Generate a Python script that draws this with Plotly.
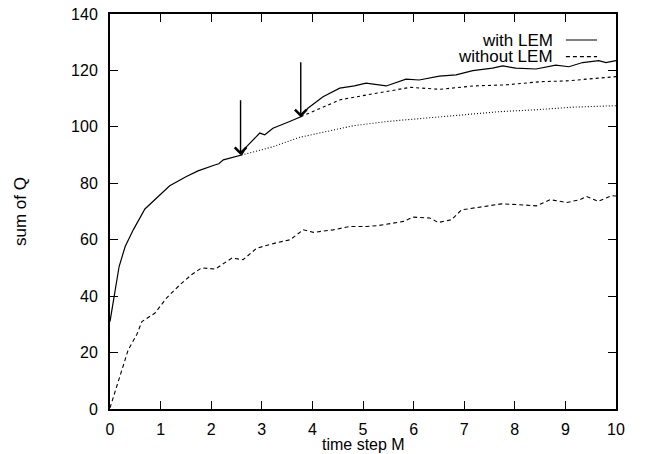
import plotly.graph_objects as go

# ---- data ----
with_lem_x = [0, 0.07, 0.18, 0.3, 0.46, 0.69, 0.95, 1.18, 1.51, 1.74, 2.07, 2.15, 2.24, 2.6,
              2.7, 2.96, 3.06, 3.22, 3.55, 3.77, 3.91, 4.21, 4.54, 4.83, 5.06, 5.46, 5.85,
              6.11, 6.51, 6.84, 7.17, 7.56, 7.76, 8.02, 8.42, 8.81, 9.07, 9.34, 9.66, 9.8, 10]
with_lem_y = [31, 39, 50.5, 57.6, 63.5, 70.9, 75.3, 79.1, 82.4, 84.4, 86.5, 86.9, 88.3, 90,
              93, 97.8, 97.2, 99.5, 101.9, 103.6, 106.6, 110.7, 113.7, 114.5, 115.5, 114.5, 116.9,
              116.6, 118, 118.4, 119.9, 120.8, 121.6, 120.8, 120.5, 121.9, 121.3, 122.8, 123.5, 122.8, 123.5]

branch1_x = [2.6, 3.23, 3.75, 4.41, 4.81, 5.47, 6.13, 6.92, 7.71, 8.37, 9.16, 10]
branch1_y = [90, 93, 96.3, 98.7, 100.4, 101.9, 103, 104.2, 105.4, 106, 107, 107.5]

branch2_x = [3.77, 4.15, 4.55, 5.07, 5.6, 5.93, 6.52, 7.18, 7.84, 8.5, 9.03, 9.49, 10]
branch2_y = [103.6, 106.6, 109.6, 111.3, 113.1, 114, 113.3, 114.5, 114.9, 116, 116.3, 116.9, 117.8]

without_lem_x = [0, 0.2, 0.36, 0.53, 0.63, 0.89, 1.12, 1.38, 1.61, 1.81, 2.08, 2.41, 2.63, 2.9,
                 3.26, 3.56, 3.82, 4.02, 4.41, 4.74, 5.07, 5.3, 5.53, 5.8, 5.99, 6.32, 6.49, 6.75,
                 6.95, 7.31, 7.74, 8.1, 8.43, 8.7, 9.03, 9.29, 9.42, 9.65, 9.91, 10]
without_lem_y = [0.4, 11.6, 21, 26.4, 31, 34, 39.4, 44, 47.6, 50, 49.6, 53.5, 52.9, 57,
                 58.8, 60, 63.5, 62.6, 63.5, 64.7, 64.7, 65, 65.7, 66.5, 68, 67.7, 66.1, 67.1,
                 70.6, 71.6, 72.7, 72.4, 72, 74.2, 73.2, 74.2, 75.3, 73.6, 75.6, 75.5]

# arrows: (x, tail y, head y)
arrow_x = [2.58, 3.77]
arrow_tail_y = [110, 123.4]
arrow_head_y = [90, 103.4]

legend_labels = ["with LEM", "without LEM"]
x_title = "time step M"
y_title = "sum of Q"

FONT = "Liberation Sans, Arial, Helvetica, sans-serif"
FS = 17
TFS = 16

fig = go.Figure()
fig.add_trace(go.Scatter(x=without_lem_x, y=without_lem_y, mode="lines",
                         line=dict(color="black", width=1.1, dash="4px,3px"), showlegend=False))
fig.add_trace(go.Scatter(x=branch1_x, y=branch1_y, mode="lines",
                         line=dict(color="black", width=1.1, dash="1px,2px"), showlegend=False))
fig.add_trace(go.Scatter(x=branch2_x, y=branch2_y, mode="lines",
                         line=dict(color="black", width=1.1, dash="3px,3px"), showlegend=False))
fig.add_trace(go.Scatter(x=with_lem_x, y=with_lem_y, mode="lines",
                         line=dict(color="black", width=1.2), showlegend=False))

for ax_, ty, hy in zip(arrow_x, arrow_tail_y, arrow_head_y):
    fig.add_annotation(x=ax_, y=hy, ax=ax_, ay=ty, xref="x", yref="y", axref="x", ayref="y",
                       showarrow=True, arrowhead=4, arrowsize=1.6, arrowwidth=1.4,
                       arrowcolor="black", text="")

# manual gnuplot-style legend (text left, sample right)
leg_y = [0.934, 0.892]
leg_dash = ["solid", "4px,3px"]
for lab, yy, dd in zip(legend_labels, leg_y, leg_dash):
    fig.add_annotation(x=0.877, y=yy, xref="paper", yref="paper", text=lab, showarrow=False,
                       xanchor="right", yanchor="middle", borderpad=0,
                       font=dict(family=FONT, size=FS, color="black"))
    fig.add_shape(type="line", xref="paper", yref="paper", x0=0.901, x1=0.9625, y0=yy, y1=yy,
                  line=dict(color="black", width=1.1, dash=dd))

# x axis title placed as an annotation (gnuplot puts it right at the bottom edge)
fig.add_annotation(x=0.5, y=-0.09, xref="paper", yref="paper", text=x_title, showarrow=False,
                   xanchor="center", yanchor="middle", borderpad=0,
                   font=dict(family=FONT, size=TFS, color="black"))

axis_common = dict(showline=True, linecolor="black", linewidth=2, mirror="ticks",
                   ticks="inside", ticklen=8, tickwidth=1.2, tickcolor="black",
                   showgrid=False, zeroline=False, ticklabeloverflow="allow",
                   tickfont=dict(family=FONT, size=TFS, color="black"))

fig.update_xaxes(range=[0, 10], dtick=1, tick0=0, ticklabelstandoff=5, **axis_common)
fig.update_yaxes(range=[0, 140], dtick=20, tick0=0, ticklabelstandoff=7,
                 title=dict(text=y_title, font=dict(family=FONT, size=FS, color="black"),
                            standoff=40),
                 **axis_common)

fig.update_layout(width=651, height=454, margin=dict(l=110, r=35, t=14, b=45, autoexpand=False),
                  plot_bgcolor="white", paper_bgcolor="white",
                  font=dict(family=FONT, size=FS, color="black"))

# remove the default 8px page margin so the figure fills the window exactly
fig.write_html("out.html", config={"displayModeBar": False},
               post_script="document.body.style.margin='0px';")
